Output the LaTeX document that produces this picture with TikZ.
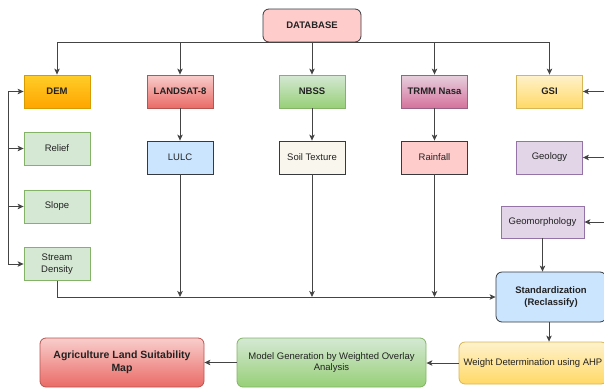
\documentclass[tikz,border=0pt]{standalone}
\usepackage{fontspec}
\setmainfont{Liberation Sans}
\usepackage{tikz}
\usetikzlibrary{arrows.meta}
\usetikzlibrary{calc}
\newcommand{\boxw}{66pt}
\newcommand{\boxh}{33pt}
\newcommand{\rowa}{91.5}
\newcommand{\rowb}{157.5}
\newcommand{\rowc}{362.5}
\definecolor{lnclr}{HTML}{444444}
\definecolor{txclr}{HTML}{222222}
\definecolor{dkbrd}{HTML}{36393D}
\definecolor{pinkfl}{HTML}{FFCCCC}
\definecolor{orgtop}{HTML}{FFCD28}
\definecolor{orgbot}{HTML}{FFA500}
\definecolor{orgbrd}{HTML}{D79B00}
\definecolor{redtop}{HTML}{F8CECC}
\definecolor{redbot}{HTML}{EA6B66}
\definecolor{redbrd}{HTML}{B85450}
\definecolor{grntop}{HTML}{D5E8D4}
\definecolor{grnbot}{HTML}{97D077}
\definecolor{grnbrd}{HTML}{82B366}
\definecolor{magtop}{HTML}{E6D0DE}
\definecolor{magbot}{HTML}{D5739D}
\definecolor{magbrd}{HTML}{996185}
\definecolor{yeltop}{HTML}{FFF2CC}
\definecolor{yelbot}{HTML}{FFD966}
\definecolor{yelbrd}{HTML}{D6B656}
\definecolor{blufl}{HTML}{CCE5FF}
\definecolor{crmfl}{HTML}{F9F7ED}
\definecolor{prpfl}{HTML}{E1D5E7}
\definecolor{prpbrd}{HTML}{9673A6}

\begin{document}
\begin{tikzpicture}[x=1pt,y=-1pt,font=\fontsize{9.5}{11.5}\selectfont,
    box/.style={draw,line width=0.8pt,minimum width=\boxw,minimum height=\boxh,
      inner sep=1pt,align=center,text=txclr},
    rbox/.style={box,rounded corners=6pt},
    bld/.style={font=\fontsize{9.5}{12}\selectfont\bfseries},
    arr/.style={draw=lnclr,line width=0.9pt,
      -{Stealth[length=6pt,width=5.5pt,inset=1.5pt]}},
    ln/.style={draw=lnclr,line width=0.9pt}]

    \useasboundingbox (0,0) rectangle (604,388);

    \node [rbox,bld,fill=pinkfl,draw=dkbrd,minimum width=98pt]
      (db) at (312,25.5) {DATABASE};

    \node [box,bld,top color=orgtop,bottom color=orgbot,draw=orgbrd]
      (dem) at (57,\rowa) {DEM};
    \node [box,bld,top color=redtop,bottom color=redbot,draw=redbrd]
      (lsat) at (180,\rowa) {LANDSAT-8};
    \node [box,bld,top color=grntop,bottom color=grnbot,draw=grnbrd]
      (nbss) at (312,\rowa) {NBSS};
    \node [box,bld,top color=magtop,bottom color=magbot,draw=magbrd]
      (trmm) at (434.5,\rowa) {TRMM Nasa};
    \node [box,bld,top color=yeltop,bottom color=yelbot,draw=yelbrd]
      (gsi) at (549.5,\rowa) {GSI};

    \node [box,fill=grntop,draw=grnbrd] (relief) at (57,148.5) {Relief};
    \node [box,fill=grntop,draw=grnbrd] (slope) at (57,206.5) {Slope};
    \node [box,fill=grntop,draw=grnbrd] (stream) at (57,264) {Stream\\Density};

    \node [box,fill=blufl,draw=dkbrd] (lulc) at (180,\rowb) {LULC};
    \node [box,fill=crmfl,draw=dkbrd] (soil) at (312,\rowb) {Soil Texture};
    \node [box,fill=pinkfl,draw=dkbrd] (rain) at (434.5,\rowb) {Rainfall};
    \node [box,fill=prpfl,draw=prpbrd] (geol) at (549.5,\rowb) {Geology};
    \node [box,fill=prpfl,draw=prpbrd,minimum width=83pt,minimum height=32pt]
      (geom) at (542.5,222) {Geomorphology};

    \node [rbox,bld,fill=blufl,draw=dkbrd,minimum width=110pt,
      minimum height=50pt] (std) at (551,297) {Standardization\\(Reclassify)};

    \node [rbox,top color=yeltop,bottom color=yelbot,draw=yelbrd,
      minimum width=148pt,minimum height=42pt] (wgt) at (533,363)
      {Weight Determination using AHP};
    \node [rbox,top color=grntop,bottom color=grnbot,draw=grnbrd,
      minimum width=189pt,minimum height=49pt] (model) at (331.5,\rowc)
      {Model Generation by Weighted Overlay\\Analysis};
    \node [rbox,top color=redtop,bottom color=redbot,draw=redbrd,
      minimum width=164pt,minimum height=49pt,
      font=\fontsize{10.5}{13}\selectfont\bfseries] (agri) at (122,\rowc)
      {Agriculture Land Suitability\\Map};

    \draw [arr] (db.south) -| (dem.north);
    \draw [arr] (db.south) -| (lsat.north);
    \draw [arr] (db.south) -- (nbss.north);
    \draw [arr] (db.south) -| (trmm.north);
    \draw [arr] (db.south) -| (gsi.north);

    \draw [arr] (lsat) -- (lulc);
    \draw [arr] (nbss) -- (soil);
    \draw [arr] (trmm) -- (rain);

    \coordinate (ltop) at (8,\rowa);
    \coordinate (lbot) at (8,264);
    \draw [ln] (lbot) -- (ltop);
    \foreach \n in {dem,relief,slope,stream}
      \draw [arr] (ltop |- \n.west) -- (\n.west);

    \coordinate (redge) at (606,\rowa);
    \foreach \n in {gsi,geol,geom}
      \draw [arr] (redge |- \n.east) -- (\n.east);

    \draw [arr] (stream.south) |- (std.west);
    \foreach \n in {lulc,soil,rain}
      \draw [arr] (\n.south) -- (\n.south |- std.west);

    \coordinate (stdx) at (549,0);
    \draw [arr] (geom.south) -- (geom.south |- std.north);
    \draw [arr] (std.south -| stdx) -- (stdx |- wgt.north);
    \draw [arr] (wgt.west) -- (wgt.west -| model.east);
    \draw [arr] (model.west) -- (agri.east);

  \end{tikzpicture}
\end{document}
